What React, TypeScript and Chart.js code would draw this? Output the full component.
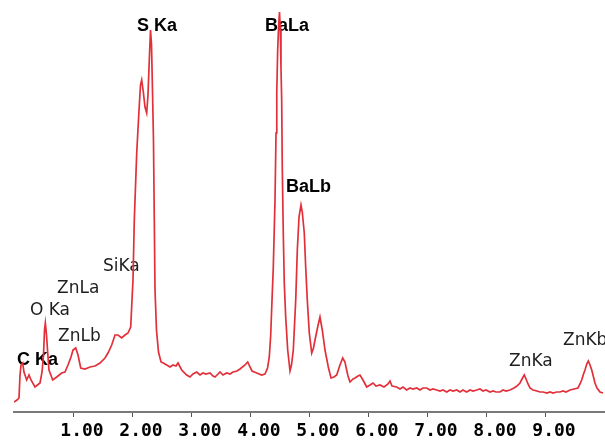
import React, { useEffect, useRef } from 'react';
import { Chart, registerables } from 'chart.js';

Chart.register(...registerables);

// Energy (keV) of each spectrum sample
const energies: number[] = [
  0.0, 0.051, 0.085, 0.102, 0.119, 0.147, 0.169, 0.215, 0.254, 0.288,
  0.356, 0.441, 0.475, 0.5, 0.517, 0.531, 0.551, 0.568, 0.593, 0.656,
  0.724, 0.808, 0.864, 0.915, 0.966, 1.0, 1.046, 1.085, 1.131, 1.203,
  1.288, 1.373, 1.458, 1.542, 1.593, 1.656, 1.712, 1.763, 1.825, 1.881,
  1.932, 1.978, 2.0, 2.017, 2.039, 2.08, 2.119, 2.144, 2.164, 2.192,
  2.22, 2.249, 2.271, 2.293, 2.314, 2.331, 2.347, 2.364, 2.378, 2.39,
  2.415, 2.449, 2.492, 2.531, 2.588, 2.644, 2.695, 2.746, 2.78, 2.842,
  2.927, 2.983, 3.034, 3.097, 3.153, 3.203, 3.254, 3.322, 3.373, 3.407,
  3.458, 3.492, 3.542, 3.605, 3.661, 3.712, 3.78, 3.831, 3.915, 3.961,
  4.0, 4.034, 4.114, 4.198, 4.254, 4.297, 4.327, 4.351, 4.373, 4.395,
  4.424, 4.441, 4.454, 4.469, 4.486, 4.5, 4.514, 4.525, 4.537, 4.547,
  4.564, 4.581, 4.605, 4.639, 4.678, 4.703, 4.734, 4.775, 4.802, 4.831,
  4.864, 4.886, 4.92, 4.944, 4.971, 5.005, 5.046, 5.076, 5.102, 5.147,
  5.186, 5.225, 5.271, 5.327, 5.373, 5.424, 5.469, 5.525, 5.571, 5.61,
  5.627, 5.661, 5.695, 5.746, 5.78, 5.831, 5.864, 5.915, 5.978, 6.034,
  6.085, 6.136, 6.203, 6.271, 6.339, 6.373, 6.407, 6.486, 6.542, 6.593,
  6.656, 6.712, 6.763, 6.825, 6.881, 6.932, 6.995, 7.051, 7.102, 7.164,
  7.22, 7.271, 7.334, 7.39, 7.441, 7.503, 7.559, 7.61, 7.673, 7.729,
  7.78, 7.842, 7.898, 7.949, 8.0, 8.068, 8.119, 8.169, 8.237, 8.288,
  8.339, 8.407, 8.475, 8.525, 8.576, 8.619, 8.649, 8.678, 8.712, 8.746,
  8.797, 8.864, 8.915, 8.966, 9.034, 9.085, 9.136, 9.198, 9.254, 9.305,
  9.356, 9.424, 9.492, 9.559, 9.593, 9.622, 9.653, 9.678, 9.707, 9.734,
  9.763, 9.792, 9.822, 9.847, 9.881, 9.932, 9.983,
];

// Counts for each sample
const counts: number[] = [
  10, 12, 14, 37, 47, 49, 40, 32, 37, 32,
  25, 29, 40, 57, 82, 89, 77, 62, 42, 32,
  35, 39, 40, 47, 55, 62, 64, 57, 44, 43,
  45, 46, 49, 54, 59, 67, 77, 77, 74, 77,
  79, 85, 112, 132, 192, 259, 302, 327, 332, 320,
  305, 299, 317, 352, 382, 367, 322, 272, 192, 122,
  82, 60, 50, 49, 47, 45, 47, 46, 49, 42,
  37, 35, 38, 40, 37, 39, 38, 39, 36, 35,
  38, 40, 37, 39, 38, 40, 41, 43, 47, 50,
  45, 41, 39, 37, 38, 44, 55, 77, 112, 145,
  212, 279, 320, 362, 387, 400, 382, 345, 312, 245,
  179, 129, 95, 62, 41, 47, 62, 112, 162, 195,
  207, 200, 179, 145, 112, 79, 59, 64, 72, 85,
  95, 82, 62, 45, 34, 35, 37, 47, 54, 50,
  45, 36, 30, 33, 34, 36, 37, 32, 25, 27,
  29, 26, 27, 25, 28, 31, 26, 25, 23, 25,
  22, 24, 23, 24, 22, 24, 24, 22, 23, 22,
  21, 22, 20, 22, 21, 22, 20, 22, 20, 22,
  21, 22, 23, 21, 22, 20, 21, 20, 20, 22,
  21, 22, 24, 26, 29, 34, 37, 33, 28, 24,
  22, 21, 20, 20, 19, 20, 19, 20, 20, 21,
  20, 22, 23, 24, 28, 32, 38, 42, 48, 51,
  47, 42, 35, 29, 24, 20, 19,
];

// Peak labels
const peakNames: string[] = ['C Ka', 'O Ka', 'ZnLb', 'ZnLa', 'SiKa', 'S Ka', 'BaLa', 'BaLb', 'ZnKa', 'ZnKb'];
const peakLabelEnergy: number[] = [0.05, 0.27, 0.746, 0.729, 1.508, 2.085, 4.254, 4.61, 8.39, 9.305];
const peakLabelCounts: number[] = [52, 101, 75, 123, 145, 386, 386, 225, 50, 71];
const peakLabelBold: boolean[] = [true, false, false, false, false, true, true, true, false, false];

// Axis ticks
const tickValues: number[] = [1, 2, 3, 4, 5, 6, 7, 8, 9];
const xMin = 0;
const xMax = 10;
const yMax = 412;

const labelPlugin = {
  id: 'peakLabels',
  beforeDatasetsDraw(chart: any) {
    const { ctx, scales } = chart;
    ctx.save();
    ctx.textAlign = 'left';
    ctx.textBaseline = 'middle';
    peakNames.forEach((name, i) => {
      const px = scales.x.getPixelForValue(peakLabelEnergy[i]);
      const py = scales.y.getPixelForValue(peakLabelCounts[i]);
      if (peakLabelBold[i]) {
        ctx.font = 'bold 18px "Liberation Sans", Arial, sans-serif';
        ctx.fillStyle = '#000000';
      } else {
        ctx.font = '17px "DejaVu Sans", sans-serif';
        ctx.fillStyle = '#1e1e1e';
      }
      ctx.fillText(name, px, py);
    });
    ctx.restore();
  },
};

export default function App() {
  const ref = useRef<HTMLCanvasElement>(null);

  useEffect(() => {
    if (!ref.current) return;
    const points = energies.map((e, i) => ({ x: e, y: counts[i] }));
    const chart = new Chart(ref.current, {
      type: 'line',
      data: {
        datasets: [
          {
            data: points,
            borderColor: '#e2303a',
            borderWidth: 1.7,
            pointRadius: 0,
            tension: 0,
            fill: false,
          },
        ],
      },
      options: {
        animation: false,
        responsive: false,
        maintainAspectRatio: false,
        layout: { padding: { left: 14, right: 1, top: 0, bottom: 0 } },
        plugins: {
          legend: { display: false },
          tooltip: { enabled: false },
        },
        scales: {
          x: {
            type: 'linear',
            min: xMin,
            max: xMax,
            afterFit: (scale: any) => {
              scale.height = 28;
            },
            afterBuildTicks: (scale: any) => {
              scale.ticks = tickValues.map((v) => ({ value: v }));
            },
            border: { display: true, color: '#7a7a7a', width: 2 },
            grid: {
              display: true,
              drawOnChartArea: false,
              drawTicks: true,
              tickLength: 5,
              color: '#555555',
              lineWidth: 1,
            },
            ticks: {
              autoSkip: false,
              maxRotation: 0,
              padding: 4,
              labelOffset: 9,
              color: '#000000',
              font: { family: '"DejaVu Sans Mono", monospace', weight: 'bold', size: 18 },
              callback: (v: any) => Number(v).toFixed(2),
            },
          },
          y: {
            type: 'linear',
            display: false,
            min: 0,
            max: yMax,
          },
        },
      },
      plugins: [labelPlugin],
    });
    return () => chart.destroy();
  }, []);

  return (
    <div style={{ position: 'absolute', left: 0, top: 0, width: 605, height: 440, background: '#ffffff' }}>
      <canvas ref={ref} width={605} height={440} />
    </div>
  );
}
